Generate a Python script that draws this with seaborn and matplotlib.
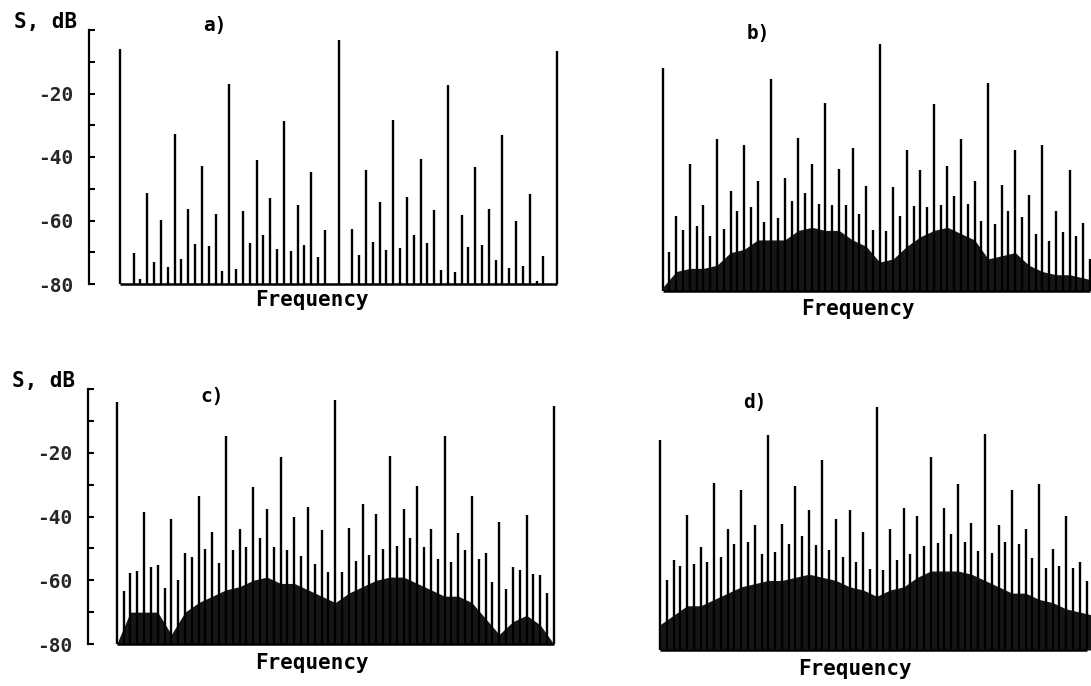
import numpy as np
import matplotlib
matplotlib.use("Agg")
import matplotlib.pyplot as plt
import seaborn as sns

nan = np.nan

# ---------------- data (dB values of the spectral lines, index = harmonic no.) ----------------
spec_a = [-6.0, nan, -70.2, -78.4, -51.2, -73.1, -59.7, -74.5,
          -32.7, -72.1, -56.3, -67.3, -42.9, -68.1, -57.8, -75.8,
          -17.0, -75.3, -57.0, -67.0, -40.8, -64.5, -52.9, -68.9,
          -28.8, -69.5, -55.0, -67.6, -44.7, -71.4, -63.1, nan,
          -3.2, nan, -62.6, -70.8, -44.2, -66.8, -54.3, -69.3,
          -28.4, -68.7, -52.7, -64.7, -40.5, -67.2, -56.8, -75.6,
          -17.2, -76.1, -58.2, -68.2, -43.1, -67.7, -56.3, -72.4,
          -33.1, -75.0, -60.0, -74.2, -51.6, -79.0, -71.1, nan,
          -6.5]

spec_b = [-9.5, -67.8, -56.5, -60.9, -40.1, -59.6, -53.0, -62.6,
          -32.0, -60.5, -48.4, -54.9, -34.1, -53.5, -45.2, -58.3,
          -13.0, -57.0, -44.3, -51.7, -31.7, -49.3, -39.9, -52.6,
          -20.6, -53.0, -41.7, -53.1, -34.9, -55.9, -47.0, -61.0,
          -2.0, -61.2, -47.2, -56.3, -35.5, -53.3, -42.0, -53.5,
          -21.1, -53.1, -40.7, -50.1, -32.2, -52.6, -45.4, -58.1,
          -14.3, -59.1, -46.7, -54.9, -35.4, -56.7, -49.8, -62.1,
          -33.8, -64.4, -54.9, -61.4, -42.0, -62.6, -58.6, -69.9]

spec_c = [-4.2, -63.4, -57.6, -57.1, -38.5, -55.8, -55.3, -62.4,
          -40.9, -60.0, -51.3, -52.7, -33.5, -50.3, -45.0, -54.5,
          -14.6, -50.6, -44.0, -49.5, -30.6, -46.9, -37.7, -49.7,
          -21.2, -50.6, -40.1, -52.4, -36.9, -54.8, -44.1, -57.4,
          -3.5, -57.5, -43.6, -54.1, -36.2, -52.0, -39.1, -50.2,
          -21.0, -49.3, -37.8, -46.9, -30.4, -49.6, -43.9, -53.3,
          -14.7, -54.4, -45.1, -50.4, -33.6, -53.2, -51.6, -60.6,
          -41.8, -62.7, -55.9, -56.7, -39.6, -58.0, -58.5, -64.0,
          -5.2]

spec_d = [-13.5, -57.7, -51.4, -53.5, -37.2, -52.9, -47.4, -52.3,
          -27.1, -50.5, -41.6, -46.5, -29.5, -45.8, -40.5, -49.5,
          -12.1, -48.9, -40.2, -46.3, -28.1, -44.0, -35.8, -46.8,
          -20.0, -48.4, -38.6, -50.5, -35.8, -52.3, -42.6, -54.5,
          -3.2, -54.6, -41.8, -51.5, -35.2, -49.7, -37.6, -47.1,
          -18.9, -46.0, -35.2, -43.2, -27.6, -45.7, -39.9, -48.6,
          -11.8, -49.4, -40.5, -45.7, -29.5, -46.5, -41.8, -50.9,
          -27.4, -53.9, -47.9, -53.4, -37.6, -53.9, -52.0, -58.3]

# noise-floor envelopes, read every 2nd harmonic (0, 2, ..., 64)
floor_b = [-79, -74, -73, -73, -72, -68, -67, -64, -64, -64, -61, -60, -61, -61, -64, -66,
           -71, -70, -66, -63, -61, -60, -62, -64, -70, -69, -68, -72, -74, -75, -75, -76, -77]
floor_c = [-80, -70, -70, -70, -77, -70, -67, -65, -63, -62, -60, -59, -61, -61, -63, -65,
           -67, -64, -62, -60, -59, -59, -61, -63, -65, -65, -67, -72, -77, -73, -71, -74, -80]
floor_d = [-72, -69, -66, -66, -64, -62, -60, -59, -58, -58, -57, -56, -57, -58, -60, -61,
           -63, -61, -60, -57, -55, -55, -55, -56, -58, -60, -62, -62, -64, -65, -67, -68, -69]

yticks = [-80, -60, -40, -20, 0]
ytick_labels = ["-80", "-60", "-40", "-20", ""]
minor_ticks = [-70, -50, -30, -10]
panel_titles = ["a)", "b)", "c)", "d)"]
xlabel = "Frequency"
ylabel = "S, dB"

# ---------------- style ----------------
sns.set_theme(style="white")
plt.rcParams["font.family"] = ["DejaVu Sans Mono", "DejaVu Sans"]
plt.rcParams["font.weight"] = "bold"

W, H = 1091, 686
fig = plt.figure(figsize=(W / 100, H / 100), dpi=100)
fig.patch.set_facecolor("white")


def add_panel(x0, dx, ytop, ybot, left, right):
    ppd = (ybot - ytop) / 80.0
    top_px = ytop - 1.5 * ppd
    bot_px = ybot + 2.5 * ppd
    ax = fig.add_axes([left / W, 1 - bot_px / H, (right - left) / W, (bot_px - top_px) / H])
    ax.set_xlim((left - x0) / dx, (right - x0) / dx)
    ax.set_ylim(-82.5, 1.5)
    ax.set_facecolor("none")
    return ax


def draw(ax, spec, floor=None, axis=False):
    vals = np.array(spec, dtype=float)
    idx = np.arange(len(vals))
    m = ~np.isnan(vals)
    if floor is not None:
        fx = np.arange(len(floor)) * 2
        ax.fill_between(fx, -80, floor, color="#161616", lw=0, zorder=1)
    ax.vlines(idx[m], -80, vals[m], color="black", lw=1.7, zorder=2)
    ax.hlines(-80, 0, idx[-1], color="black", lw=1.8, zorder=3)
    sns.despine(ax=ax, left=not axis, bottom=True, top=True, right=True)
    ax.set_xticks([])
    if axis:
        ax.spines["left"].set_bounds(-80, 0)
        ax.spines["left"].set_linewidth(1.6)
        ax.spines["left"].set_color("black")
        ax.set_yticks(yticks)
        ax.set_yticklabels(ytick_labels, fontsize=14, fontweight="bold")
        ax.set_yticks(minor_ticks, minor=True)
        ax.tick_params(axis="y", which="both", direction="in", length=4, width=1.5,
                       color="black", pad=11, left=True)
    else:
        ax.set_yticks([])


ax_a = add_panel(x0=120.0, dx=6.83, ytop=30.0, ybot=284.0, left=89, right=566)
draw(ax_a, spec_a, axis=True)
ax_b = add_panel(x0=662.7, dx=6.78, ytop=37.7, ybot=290.5, left=650, right=1091)
draw(ax_b, spec_b, floor_b)
ax_c = add_panel(x0=116.7, dx=6.83, ytop=389.0, ybot=644.0, left=88, right=566)
draw(ax_c, spec_c, floor_c, axis=True)
ax_d = add_panel(x0=660.0, dx=6.77, ytop=397.2, ybot=650.0, left=650, right=1091)
draw(ax_d, spec_d, floor_d)


def ftext(x, y, s, size):
    fig.text(x / W, 1 - y / H, s, ha="center", va="center", fontsize=size,
             fontweight="bold", color="black")


ftext(46, 22, ylabel, 15)
ftext(44, 381, ylabel, 15)
for (x, y), t in zip([(215, 26), (758, 33), (212, 396), (755, 403)], panel_titles):
    ftext(x, y, t, 14)
for x, y in [(312, 300), (858, 309), (312, 663), (855, 669)]:
    ftext(x, y, xlabel, 15)

fig.savefig("out.png", dpi=100, facecolor="white")
